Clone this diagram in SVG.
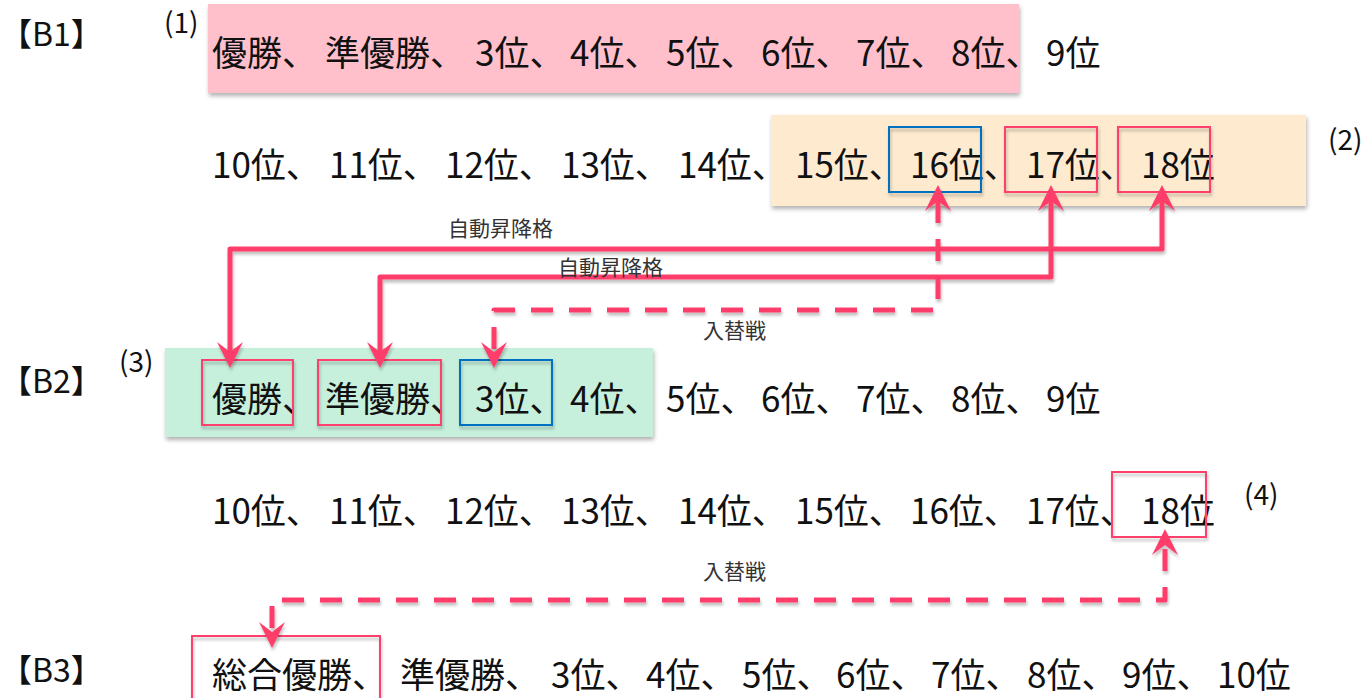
<svg xmlns="http://www.w3.org/2000/svg" width="1370" height="698" viewBox="0 0 1370 698">
<defs>
<style>
.t{font-family:"Noto Sans CJK JP","Noto Sans CJK SC",sans-serif;fill:#111;}
.row{font-size:35px;}
.hd{font-size:32px;}
.num{font-size:28px;}
.lbl{font-size:21px;fill:#333;}
.red{fill:none;stroke:#FF3F6C;stroke-width:2;}
.blue{fill:none;stroke:#0070C0;stroke-width:2;}
.con{fill:none;stroke:#FF3D6B;stroke-width:5;stroke-linejoin:round;}
.dash{stroke-dasharray:22 16;}
</style>
<filter id="sh" x="-5%" y="-20%" width="110%" height="150%">
<feDropShadow dx="1" dy="3" stdDeviation="2" flood-color="#000" flood-opacity="0.3"/>
</filter>
<filter id="shl" x="-5%" y="-30%" width="110%" height="160%">
<feDropShadow dx="1" dy="3" stdDeviation="1.5" flood-color="#000" flood-opacity="0.25"/>
</filter>
<marker id="ah" viewBox="0 0 26 26" markerUnits="userSpaceOnUse" markerWidth="26" markerHeight="26" refX="18" refY="13" orient="auto-start-reverse">
<path d="M0,0 L26,13 L0,26 L10,13 Z" fill="#FF3D6B"/>
</marker>
</defs>
<rect width="1370" height="698" fill="#fff"/>

<g id="bg-b1"><rect x="208" y="4" width="811" height="89" fill="#FFC0CB" filter="url(#sh)"/></g>
<g id="bg-b1-low"><rect x="771" y="115" width="535" height="91" fill="#FDEACF" filter="url(#sh)"/></g>
<g id="bg-b2"><rect x="165" y="348" width="488" height="89" fill="#C6EFDC" filter="url(#sh)"/></g>

<g id="headers">
<text class="t hd" x="0" y="46">【B1】</text>
<text class="t hd" x="0" y="393">【B2】</text>
<text class="t hd" x="0" y="682">【B3】</text>
<text class="t num" x="164" y="33">(1)</text>
<text class="t num" x="1328" y="150">(2)</text>
<text class="t num" x="119" y="372">(3)</text>
<text class="t num" x="1244" y="505">(4)</text>
</g>

<g id="b1-row1"><text class="t row" y="66"><tspan x="212">優勝、</tspan><tspan x="325">準優勝、</tspan><tspan x="475">3位、</tspan><tspan x="570">4位、</tspan><tspan x="666">5位、</tspan><tspan x="761">6位、</tspan><tspan x="856">7位、</tspan><tspan x="951">8位、</tspan><tspan x="1046">9位</tspan></text></g>
<g id="b1-row2"><text class="t row" y="178"><tspan x="212">10位、</tspan><tspan x="329">11位、</tspan><tspan x="445">12位、</tspan><tspan x="561">13位、</tspan><tspan x="678">14位、</tspan><tspan x="795">15位、</tspan><tspan x="910">16位、</tspan><tspan x="1026">17位、</tspan><tspan x="1141">18位</tspan></text></g>
<g id="b2-row1"><text class="t row" y="412"><tspan x="212">優勝、</tspan><tspan x="325">準優勝、</tspan><tspan x="475">3位、</tspan><tspan x="570">4位、</tspan><tspan x="666">5位、</tspan><tspan x="761">6位、</tspan><tspan x="856">7位、</tspan><tspan x="951">8位、</tspan><tspan x="1046">9位</tspan></text></g>
<g id="b2-row2"><text class="t row" y="524"><tspan x="212">10位、</tspan><tspan x="329">11位、</tspan><tspan x="445">12位、</tspan><tspan x="561">13位、</tspan><tspan x="678">14位、</tspan><tspan x="795">15位、</tspan><tspan x="910">16位、</tspan><tspan x="1026">17位、</tspan><tspan x="1141">18位</tspan></text></g>
<g id="b3-row"><text class="t row" y="688"><tspan x="212">総合優勝、</tspan><tspan x="400">準優勝、</tspan><tspan x="551">3位、</tspan><tspan x="646">4位、</tspan><tspan x="742">5位、</tspan><tspan x="836">6位、</tspan><tspan x="931">7位、</tspan><tspan x="1027">8位、</tspan><tspan x="1122">9位、</tspan><tspan x="1217">10位</tspan></text></g>

<g id="box-b1-16"><rect class="blue" x="889" y="127" width="92" height="65" filter="url(#shl)"/></g>
<g id="box-b1-17"><rect class="red" x="1005" y="127" width="92" height="65" filter="url(#shl)"/></g>
<g id="box-b1-18"><rect class="red" x="1118" y="127" width="92" height="65" filter="url(#shl)"/></g>
<g id="box-b2-1"><rect class="red" x="202" y="360" width="91" height="65" filter="url(#shl)"/></g>
<g id="box-b2-2"><rect class="red" x="318" y="360" width="123" height="65" filter="url(#shl)"/></g>
<g id="box-b2-3"><rect class="blue" x="460" y="360" width="92" height="65" filter="url(#shl)"/></g>
<g id="box-b2-18"><rect class="red" x="1112" y="472" width="94" height="65" filter="url(#shl)"/></g>
<g id="box-b3-1"><rect class="red" x="192" y="636" width="188" height="72" filter="url(#shl)"/></g>

<g id="connectors" filter="url(#shl)">
<path class="con" d="M230,360 L230,249 L1162,249 L1162,193" marker-start="url(#ah)" marker-end="url(#ah)"/>
<path class="con" d="M380,360 L380,277 L1051,277 L1051,193" marker-start="url(#ah)" marker-end="url(#ah)"/>
<path class="con dash" d="M938,193 L938,310 L494,310 L494,360" marker-start="url(#ah)" marker-end="url(#ah)" stroke-dashoffset="-8"/>
<path class="con dash" d="M1165,537 L1165,600 L272,600 L272,640" marker-start="url(#ah)" marker-end="url(#ah)" stroke-dashoffset="-12"/>
</g>

<g id="labels">
<text class="t lbl" x="448" y="236">自動昇降格</text>
<text class="t lbl" x="558" y="275">自動昇降格</text>
<text class="t lbl" x="703" y="338">入替戦</text>
<text class="t lbl" x="703" y="579">入替戦</text>
</g>
</svg>
